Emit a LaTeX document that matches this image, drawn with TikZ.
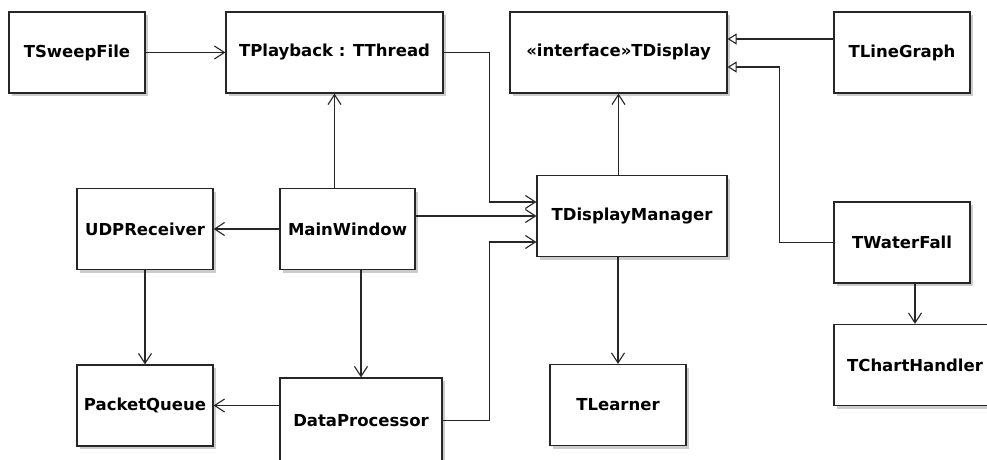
\documentclass[tikz,border=0pt]{standalone}
\usepackage{fontspec}
\setmainfont{DejaVu Sans}
\usepackage{tikz}
\usetikzlibrary{calc,arrows.meta,shadows}
\tikzstyle{classbox} = [draw=black!85, fill=white, line width=1.2pt, minimum width=136pt, minimum height=81pt, inner sep=0pt, drop shadow={shadow xshift=3pt, shadow yshift=-3pt, fill=black!20, opacity=1}]
\tikzstyle{assoc}    = [line width=1.1pt, draw=black!85, -{Straight Barb[length=10pt,width=13pt,line width=1.1pt]}]
\tikzstyle{realize}  = [line width=1.1pt, draw=black!85, -{Triangle[open,length=9pt,width=11pt,fill=white]}]

\begin{document}
\begin{tikzpicture}[x=1pt,y=1pt,font=\fontsize{16.5}{20}\selectfont\bfseries]

		\useasboundingbox[fill=white] (0,0) rectangle (987,459);

		% top row
		\node[classbox] (sweep) at (77,406.5) {TSweepFile};
		\node[classbox, minimum width=217pt] (playback) at (334.5,406.5) {TPlayback : TThread};
		\node[classbox, minimum width=217pt] (display) at (618.5,406.5) {«interface»TDisplay};
		\node[classbox] (linegraph) at (902,406.5) {TLineGraph};

		% middle row
		\node[classbox] (udp) at (145,230) {UDPReceiver};
		\node[classbox, minimum width=135pt] (mainwin) at (347.5,230) {MainWindow};
		\node[classbox, minimum width=190pt] (dispman) at (632,243) {TDisplayManager};
		\node[classbox] (waterfall) at (902,216.5) {TWaterFall};

		% bottom row
		\node[classbox] (packet) at (145,53.5) {PacketQueue};
		\node[classbox, minimum width=162pt, minimum height=85pt] (dataproc) at (361,38.5) {DataProcessor};
		\node[classbox] (learner) at (618,54) {TLearner};
		\node[classbox, minimum width=162pt] (chart) at (915,94) {TChartHandler};

		% associations
		\draw[assoc] (sweep) -- (playback);
		\draw[assoc] (mainwin.north -| playback.south) -- (playback.south);
		\draw[assoc] (playback.east) -- ++(46,0) |- ($(dispman.west)+(0,14)$);
		\draw[assoc] (mainwin.east |- dispman.west) -- (dispman.west);
		\draw[assoc] (dataproc.east) -- ++(47,0) |- ($(dispman.west)+(0,-26)$);
		\draw[assoc] (mainwin) -- (udp);
		\draw[assoc] (udp) -- (packet);
		\draw[assoc] (mainwin.south -| dataproc.north) -- (dataproc.north);
		\draw[assoc] (dataproc.west |- packet.east) -- (packet.east);
		\draw[assoc] (dispman.north -| display.south) -- (display.south);
		\draw[assoc] (dispman.south -| learner.north) -- (learner.north);
		\draw[assoc] (waterfall.south -| chart.north) -- (chart.north);

		% realizations
		\draw[realize] ($(linegraph.west)+(0,13.5)$) -- ($(display.east)+(0,13.5)$);
		\draw[realize] (waterfall.west) -- ++(-54,0) |- ($(display.east)+(0,-14.5)$);
	\end{tikzpicture}
\end{document}
